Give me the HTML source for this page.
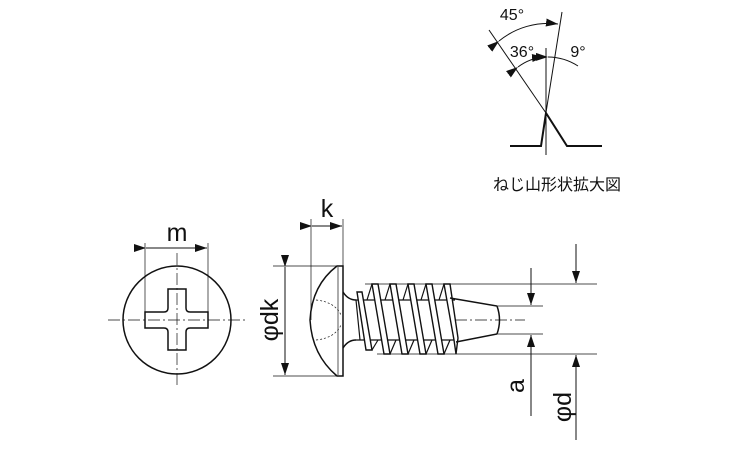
<!DOCTYPE html>
<html><head><style>body{margin:0;background:#fff}svg{display:block}text{font-family:"Liberation Sans","Noto Sans CJK JP",sans-serif;fill:#111}</style></head>
<body>
<svg width="750" height="450" viewBox="0 0 750 450" xmlns="http://www.w3.org/2000/svg">
<defs>
<marker id="a" markerWidth="12" markerHeight="8" refX="12" refY="4" orient="auto" markerUnits="userSpaceOnUse"><path d="M0,0 L12,4 L0,8z" fill="#111"/></marker>
</defs>
<g stroke="#111" fill="none" stroke-width="1">
<!-- thread detail -->
<line x1="489" y1="30" x2="546" y2="113"/>
<line x1="546" y1="48" x2="546" y2="155"/>
<line x1="562" y1="12" x2="544" y2="125"/>
<polyline points="510,146 541,146 546,113 567,146 602,146" stroke-width="2"/>
<path d="M499,41 A78,78 0 0 1 558,24" marker-start="url(#a)" marker-end="url(#a)"/>
<path d="M518,67 A50,50 0 0 1 544,57" marker-start="url(#a)" marker-end="url(#a)"/>
<path d="M548,57 A56,56 0 0 1 578,66" marker-start="url(#a)"/>
<!-- front view -->
<circle cx="177" cy="320" r="54" stroke-width="1.5"/>
<path d="M145,312 H164 Q168,312 168,308 V289 H186 V308 Q186,312 190,312 H208 V328 H190 Q186,328 186,332 V350 H168 V332 Q168,328 164,328 H145 Z" stroke-width="1.5"/>
<line x1="108" y1="320" x2="246" y2="320" stroke-dasharray="12,3,2,3" stroke-width="0.7"/>
<line x1="177" y1="253" x2="177" y2="385" stroke-dasharray="12,3,2,3" stroke-width="0.7"/>
<line x1="145" y1="243" x2="145" y2="312" stroke-width="0.7"/>
<line x1="208" y1="243" x2="208" y2="312" stroke-width="0.7"/>
<line x1="146" y1="248" x2="207" y2="248" marker-start="url(#a)" marker-end="url(#a)"/>
<!-- side view head -->
<line x1="311" y1="219" x2="311" y2="320" stroke-width="0.7"/>
<line x1="343" y1="219" x2="343" y2="266" stroke-width="0.7"/>
<line x1="312" y1="226" x2="342" y2="226" marker-start="url(#a)" marker-end="url(#a)"/>
<line x1="273" y1="266" x2="338" y2="266" stroke-width="0.7"/>
<line x1="273" y1="376" x2="338" y2="376" stroke-width="0.7"/>
<line x1="285" y1="267" x2="285" y2="375" marker-start="url(#a)" marker-end="url(#a)"/>
<path d="M343,266 H337 Q312,285 310,320 Q312,355 337,376 H343 Z" stroke-width="1.5"/>
<line x1="338" y1="267" x2="338" y2="375" stroke-width="0.7"/>
<path d="M316,300 Q335,302 341,315 M316,340 Q335,338 341,325" stroke-dasharray="2,2" stroke-width="0.7"/>
<!-- neck and shank -->
<path d="M343,292 Q348,300 356,300 M343,348 Q348,340 356,340" stroke-width="1.5"/>
<path d="M356,300 H455 M356,340 H455 M356,300 L360,340" stroke-width="1.2"/>
<g stroke-width="1.4" fill="#fff">
<polygon points="357,292 362,292 372,350 366,350"/>
<polygon points="372,284 378,284 390,354 384,354"/>
<polygon points="390,284 396,284 408,354 402,354"/>
<polygon points="408,284 414,284 426,354 420,354"/>
<polygon points="426,284 432,284 444,354 438,354"/>
<polygon points="444,284 450,284 458,338 456,354 454,340"/>
</g>
<path d="M367,300 L372,284 M385,300 L390,284 M403,300 L408,284 M421,300 L426,284 M439,300 L444,284 M372,350 L378,340 M390,354 L396,340 M408,354 L414,340 M426,354 L432,340 M444,354 L450,340" stroke-width="1.2"/>
<path d="M450,298 L497,306 Q502,320 497,334 L456,342" stroke-width="1.5"/>
<line x1="455" y1="320" x2="525" y2="320" stroke-dasharray="12,3,2,3" stroke-width="0.7"/>
<!-- right dims -->
<line x1="365" y1="284" x2="597" y2="284" stroke-width="0.7"/>
<line x1="377" y1="354" x2="597" y2="354" stroke-width="0.7"/>
<line x1="498" y1="306" x2="543" y2="306" stroke-width="0.7"/>
<line x1="498" y1="334" x2="543" y2="334" stroke-width="0.7"/>
<line x1="531" y1="268" x2="531" y2="305" marker-end="url(#a)"/>
<line x1="531" y1="416" x2="531" y2="335" marker-end="url(#a)"/>
<line x1="576" y1="244" x2="576" y2="283" marker-end="url(#a)"/>
<line x1="576" y1="440" x2="576" y2="355" marker-end="url(#a)"/>
</g>
<text x="512" y="20" font-size="16" text-anchor="middle">45°</text>
<text x="522" y="57" font-size="16" text-anchor="middle">36°</text>
<text x="578" y="57" font-size="16" text-anchor="middle">9°</text>
<text x="557" y="190" font-size="16" text-anchor="middle">ねじ山形状拡大図</text>
<text x="177" y="241" font-size="25" text-anchor="middle">m</text>
<text x="327" y="217" font-size="25" text-anchor="middle">k</text>
<text transform="translate(278,320) rotate(-90)" font-size="25" text-anchor="middle">φdk</text>
<text transform="translate(524,386) rotate(-90)" font-size="25" text-anchor="middle">a</text>
<text transform="translate(571,407) rotate(-90)" font-size="25" text-anchor="middle">φd</text>
</svg>
</body></html>
